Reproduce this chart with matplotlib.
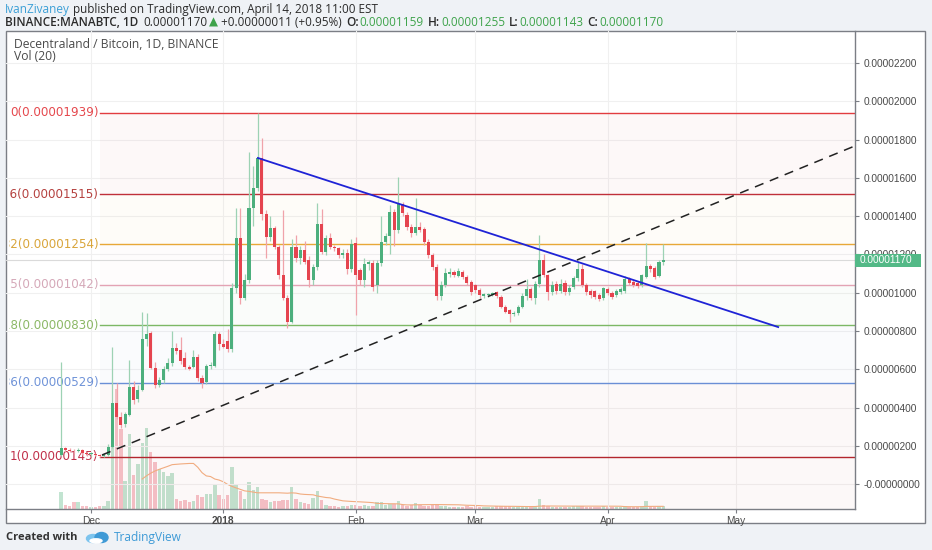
import numpy as np
import pandas as pd
import matplotlib
matplotlib.use("Agg")
import matplotlib.pyplot as plt
import matplotlib.dates as mdates
from matplotlib.patches import Rectangle, Ellipse
from matplotlib.transforms import offset_copy, blended_transform_factory, Bbox

plt.rcParams['font.family'] = ['Liberation Sans', 'DejaVu Sans']

# ---------------- data (prices in units of 1e-8 BTC) ----------------
dates = pd.date_range("2017-11-24", "2018-04-14", freq="D")

open_ = [155, 188, 180, 175, 172, 178, 162, 158, 160, 155, 150,
         153, 196, 426, 353, 315, 362, 508, 445, 492, 760, 790, 608, 519, 545, 603, 635, 712,
         701, 660, 614, 614, 665, 555, 536, 618, 618, 785, 735, 749, 705, 1025, 1287, 975, 1066, 1444, 1547, 1705,
         1410, 1293, 1338, 1241, 1093, 975, 849, 1241, 1180, 1223, 1171, 1066, 1134, 1359, 1215, 1288, 1241, 1234, 1195, 1208, 1124,
         1262, 1119, 1066, 1150, 1156, 1040, 1156, 1267, 1297, 1423, 1328, 1463, 1406, 1345, 1310, 1345, 1333, 1267, 1197, 1136,
         983, 1041, 1100, 1108, 1090, 1110, 1084, 1058, 1040, 1015, 985, 988, 990, 1003, 980, 927, 910, 889, 896, 927,
         983, 1020, 975, 1044, 1171, 1093, 1006, 1044, 1010, 1053, 1003, 1032, 1076, 1123, 1041, 1009, 1009, 990, 971, 1020,
         1000, 990, 1005, 1009, 1070, 1055, 1050, 1041, 1084, 1141, 1130, 1089, 1159]
high = [640, 195, 190, 185, 190, 182, 170, 168, 165, 160, 162,
        210, 717, 529, 380, 380, 649, 540, 520, 901, 895, 800, 640, 560, 620, 660, 800, 740,
        770, 690, 625, 700, 680, 570, 630, 640, 800, 795, 760, 810, 1050, 1444, 1444, 1100, 1737, 1660, 1939, 1810,
        1430, 1400, 1350, 1250, 1430, 990, 1280, 1300, 1245, 1270, 1190, 1150, 1469, 1440, 1300, 1310, 1250, 1240, 1230, 1230, 1280,
        1290, 1130, 1180, 1170, 1170, 1170, 1400, 1310, 1460, 1440, 1603, 1475, 1420, 1360, 1495, 1370, 1345, 1280, 1210, 1150,
        1060, 1130, 1130, 1120, 1130, 1120, 1095, 1065, 1045, 1025, 1000, 998, 1005, 1010, 990, 935, 915, 905, 935,
        1000, 1070, 1030, 1060, 1302, 1200, 1100, 1060, 1060, 1070, 1065, 1040, 1090, 1160, 1150, 1050, 1020, 1015, 1000, 1030,
        1030, 1010, 1020, 1030, 1090, 1080, 1065, 1060, 1100, 1258, 1150, 1140, 1170, 1255]
low = [150, 170, 168, 165, 168, 155, 150, 150, 148, 145, 145,
       148, 190, 340, 295, 300, 355, 420, 430, 485, 720, 600, 505, 510, 530, 590, 620, 680,
       630, 600, 595, 605, 540, 505, 525, 600, 610, 700, 710, 690, 690, 1000, 940, 960, 1050, 1350, 1530, 1380,
       1180, 1270, 1230, 1070, 960, 818, 840, 1160, 1150, 1150, 1030, 1040, 1120, 1200, 1195, 1230, 1220, 1180, 1180, 1100, 1110,
       884, 1040, 1030, 1120, 1010, 1000, 1140, 1250, 1200, 1244, 1310, 1400, 1330, 1290, 1300, 1320, 1250, 1180, 1120, 960,
       960, 1030, 1080, 1085, 1080, 1070, 1040, 990, 1000, 975, 975, 980, 985, 975, 920, 895, 849, 880, 885,
       920, 960, 960, 940, 1030, 1080, 960, 990, 995, 1000, 990, 990, 1020, 1060, 1030, 990, 975, 970, 955, 960,
       990, 970, 980, 995, 1000, 1040, 1030, 1025, 1030, 1075, 1110, 1070, 1080, 1143]
close = [188, 180, 175, 172, 178, 162, 158, 160, 155, 150, 152,
         196, 425, 353, 310, 367, 510, 440, 492, 760, 785, 608, 519, 547, 603, 635, 712, 698,
         645, 612, 604, 665, 555, 530, 618, 623, 785, 733, 718, 705, 1025, 1285, 975, 1066, 1444, 1547, 1705, 1410,
         1293, 1337, 1241, 1093, 975, 849, 1241, 1180, 1225, 1162, 1066, 1134, 1359, 1215, 1288, 1241, 1232, 1197, 1210, 1124, 1255,
         1093, 1066, 1150, 1160, 1032, 1156, 1267, 1297, 1423, 1328, 1463, 1418, 1345, 1310, 1345, 1330, 1267, 1197, 1136, 983,
         1041, 1103, 1108, 1095, 1115, 1084, 1053, 1006, 1015, 990, 995, 992, 998, 983, 927, 901, 889, 896, 927, 983,
         1020, 975, 1044, 1171, 1093, 1006, 1040, 1010, 1048, 1003, 1027, 1076, 1123, 1041, 1003, 988, 980, 965, 1023, 1000,
         980, 1010, 1020, 1070, 1050, 1040, 1035, 1093, 1141, 1125, 1084, 1159, 1170]
volume = [17, 4, 3, 7, 7, 3, 3, 2, 2, 3, 3,
          8, 90, 120, 80, 28, 75, 34, 45, 66, 81, 57, 47, 40, 37, 33, 36, 10,
          8, 9, 7, 8, 14, 12, 15, 15, 25, 14, 10, 14, 42, 25, 18, 10, 27, 19, 22, 10,
          9, 7, 8, 8, 9, 9, 22, 10, 7, 6, 5, 11, 18, 9, 4, 3, 3, 2, 3, 3, 4,
          4, 3, 4, 3, 3, 7, 7, 4, 5, 5, 8, 4, 3, 4, 6, 4, 3, 3, 4, 5,
          3, 3, 2, 2, 2, 2, 3, 2, 3, 2, 2, 2, 2, 3, 3, 3, 3, 2, 2, 3,
          3, 2, 3, 10, 4, 3, 2, 2, 2, 2, 2, 3, 3, 3, 2, 2, 2, 2, 3, 2,
          2, 2, 2, 3, 2, 2, 2, 3, 8, 3, 2, 3, 3]

fib_ratios = ["0", "0.236", "0.382", "0.5", "0.618", "0.786", "1"]
fib_values = [1939, 1515, 1254, 1042, 830, 529, 145]
fib_line_colors = ["#e23c40", "#c0303a", "#e8a838", "#e3a3b4", "#7cb865", "#6a8fd6", "#b3262d"]
fib_text_colors = ["#e5484d", "#b5413f", "#d9a53a", "#d5a8b8", "#8cb866", "#6f93d8", "#c0304a"]
fib_start = "2017-12-03 02:00"

blue_x = ["2018-01-09 02:00", "2018-05-10 22:00"]
blue_y = [1704, 821]
dash_x = ["2017-12-03 14:00", "2018-05-29 00:00"]
dash_y = [153, 1768]

price_ticks = list(range(0, 2201, 200))

# ---------------- figure ----------------
W, H = 932, 550
fig = plt.figure(figsize=(W / 100, H / 100), dpi=100, facecolor="#eff2f6")


def rect(x0, y0, x1, y1):
    return [x0 / W, 1 - y1 / H, (x1 - x0) / W, (y1 - y0) / H]


frame = Rectangle((6 / W, 1 - 523 / H), 919 / W, 492 / H, transform=fig.transFigure,
                  facecolor="white", edgecolor="#7b7e85", lw=1.0, zorder=-1)
fig.patches.append(frame)

ax_v = fig.add_axes(rect(6, 31, 855, 509))
ax = fig.add_axes(rect(6, 31, 855, 509), sharex=ax_v)
ax_v.patch.set_visible(False)
ax.patch.set_visible(False)

xs = mdates.date2num(dates)
o = np.array(open_, float)
h = np.array(high, float)
l = np.array(low, float)
c = np.array(close, float)
v = np.array(volume, float)
up = c >= o

up_col, dn_col = "#4caf7d", "#e5444f"
up_wick, dn_wick = "#9dd2b4", "#f0a3aa"

# volume pane
ax_v.bar(xs[up], v[up], width=0.8, color="#c2e4d1", linewidth=0)
ax_v.bar(xs[~up], v[~up], width=0.8, color="#f6c2c8", linewidth=0)
vma = pd.Series(v).rolling(20).mean()
ax_v.plot(xs, vma, color="#f4b183", lw=0.8)
ax_v.set_ylim(0, 478)
ax_v.axis("off")

# limits
base = mdates.date2num(pd.Timestamp("2017-12-01"))
ax.set_xlim(base - 19.9, base + 178.9)
ax.set_ylim(-129, 2367)

# grid
ax.set_axisbelow(True)
ax.grid(True, color="#f0f0f0", lw=0.8)

# fib bands and levels
fs = mdates.date2num(pd.Timestamp(fib_start))
xend = base + 260
for i in range(len(fib_values) - 1):
    ax.fill_between([fs, xend], fib_values[i + 1], fib_values[i],
                    color=fib_line_colors[i + 1], alpha=0.03, lw=0, zorder=1)
ax.fill_between([fs, xend], -200, fib_values[-1], color=fib_line_colors[-1], alpha=0.03, lw=0, zorder=1)
lab_tr = offset_copy(ax.transData, fig=fig, x=-1.5, y=0, units="dots")
label_clip = Bbox.from_extents(9, 0, 855, H)
for r, val, lc, tc in zip(fib_ratios, fib_values, fib_line_colors, fib_text_colors):
    ax.plot([fs, xend], [val, val], color=lc, lw=1.0, zorder=2)
    t = ax.text(fs, val, f"{r}({val * 1e-8:.8f})", color=tc, ha="right", va="center",
                fontsize=8.6, family="DejaVu Sans", transform=lab_tr, clip_on=True, zorder=2)
    t.set_clip_box(label_clip)

# current price line
ax.axhline(c[-1], color="#dadada", lw=0.8, zorder=1)

# candles
ax.vlines(xs[up], l[up], h[up], color=up_wick, lw=0.9, zorder=3)
ax.vlines(xs[~up], l[~up], h[~up], color=dn_wick, lw=0.9, zorder=3)
bb = np.minimum(o, c)
bh = np.maximum(np.abs(c - o), 4)
ax.bar(xs[up], bh[up], bottom=bb[up], width=0.72, color=up_col, linewidth=0, zorder=4)
ax.bar(xs[~up], bh[~up], bottom=bb[~up], width=0.72, color=dn_col, linewidth=0, zorder=4)

# trend lines
ax.plot(mdates.date2num(pd.to_datetime(blue_x)), blue_y, color="#1f23d6", lw=1.3, zorder=5)
ax.plot(mdates.date2num(pd.to_datetime(dash_x)), dash_y, color="#222222", lw=1.1,
        dashes=(6, 4.5), zorder=5)

# axes styling
for s in ["top", "left"]:
    ax.spines[s].set_visible(False)
for s in ["right", "bottom"]:
    ax.spines[s].set_color("#7b7e85")
    ax.spines[s].set_linewidth(1.0)

ax.yaxis.tick_right()
ax.set_yticks(price_ticks)
ax.set_yticklabels([("-" if t == 0 else "") + f"{t * 1e-8:.8f}" for t in price_ticks])
ax.tick_params(axis="y", direction="out", length=3, color="#7b7e85", labelsize=7.3,
               labelcolor="#4a4a4a", pad=3)

months = pd.date_range("2017-11-01", "2018-06-01", freq="MS")
mnum = mdates.date2num(months)
keep = (mnum > ax.get_xlim()[0]) & (mnum < ax.get_xlim()[1])
months = months[keep]
ax.set_xticks(mdates.date2num(months))
ax.set_xticklabels([str(m.year) if m.month == 1 else m.strftime("%b") for m in months])
ax.tick_params(axis="x", direction="out", length=3, color="#7b7e85", labelsize=7.3,
               labelcolor="#4a4a4a", pad=2)
for lbl, m in zip(ax.get_xticklabels(), months):
    if m.month == 1:
        lbl.set_fontweight("bold")

# last price tag
btr = blended_transform_factory(ax.transAxes, ax.transData)
unit_per_px = (2367 + 129) / 478.0
tag = Rectangle((1.0, c[-1] - 6.5 * unit_per_px), 66 / 849, 13 * unit_per_px, transform=btr,
                facecolor="#53b987", edgecolor="none", clip_on=False, zorder=10)
ax.add_patch(tag)
ax.text(1.0 + 5 / 849, c[-1], f"{c[-1] * 1e-8:.8f}", transform=btr, color="white",
        fontsize=7.3, va="center", ha="left", clip_on=False, zorder=11)

# ---------------- header / footer text ----------------
renderer = fig.canvas.get_renderer()
hdr_font = ["Open Sans", "DejaVu Sans"]


def chain(x, y, parts, size=8.5):
    for txt, color, weight, gap in parts:
        t = fig.text(x / W, 1 - y / H, txt, color=color, fontweight=weight, fontsize=size,
                     family=hdr_font, ha="left", va="center")
        x += t.get_window_extent(renderer=renderer).width + gap


dark = "#2b2b2b"
grn = "#3ea34b"
chain(5, 9, [("IvanZivaney", "#3b9fd6", "normal", 3),
             ("published on TradingView.com, April 14, 2018 11:00 EST", dark, "normal", 0)])
chain(5, 22, [("BINANCE:MANABTC, 1D", dark, "semibold", 5),
              ("0.00001170", dark, "normal", 2),
              ("\u25b2", grn, "normal", 3),
              ("+0.00000011 (+0.95%)", dark, "normal", 4),
              ("O:", dark, "semibold", 1), ("0.00001159", grn, "normal", 4),
              ("H:", dark, "semibold", 1), ("0.00001255", grn, "normal", 4),
              ("L:", dark, "semibold", 1), ("0.00001143", grn, "normal", 4),
              ("C:", dark, "semibold", 1), ("0.00001170", grn, "normal", 0)])
fig.text(14 / W, 1 - 44 / H, "Decentraland / Bitcoin, 1D, BINANCE", color="#4a4a4a",
         fontsize=8.7, family=hdr_font, va="center", ha="left")
fig.text(14 / W, 1 - 56 / H, "Vol (20)", color="#4a4a4a", fontsize=8.7, family=hdr_font,
         va="center", ha="left")

fig.text(6 / W, 1 - 537 / H, "Created with", color="#333333", fontsize=8.0, fontweight="bold",
         family=hdr_font, va="center", ha="left")
fig.text(114 / W, 1 - 537 / H, "TradingView", color="#3d9ad6", fontsize=8.6,
         family=hdr_font, va="center", ha="left")
ax_logo = fig.add_axes(rect(84, 530, 110, 545))
ax_logo.set_xlim(0, 26)
ax_logo.set_ylim(0, 15)
ax_logo.axis("off")
ax_logo.add_patch(Ellipse((9, 6.5), 13, 8, color="#7cc4ee"))
ax_logo.add_patch(Ellipse((17.5, 7.5), 13, 10, color="#3f9ad6"))
ax_logo.add_patch(Ellipse((12, 4.2), 12, 4, color="white"))

fig.savefig("out.png", dpi=100, facecolor=fig.get_facecolor())
